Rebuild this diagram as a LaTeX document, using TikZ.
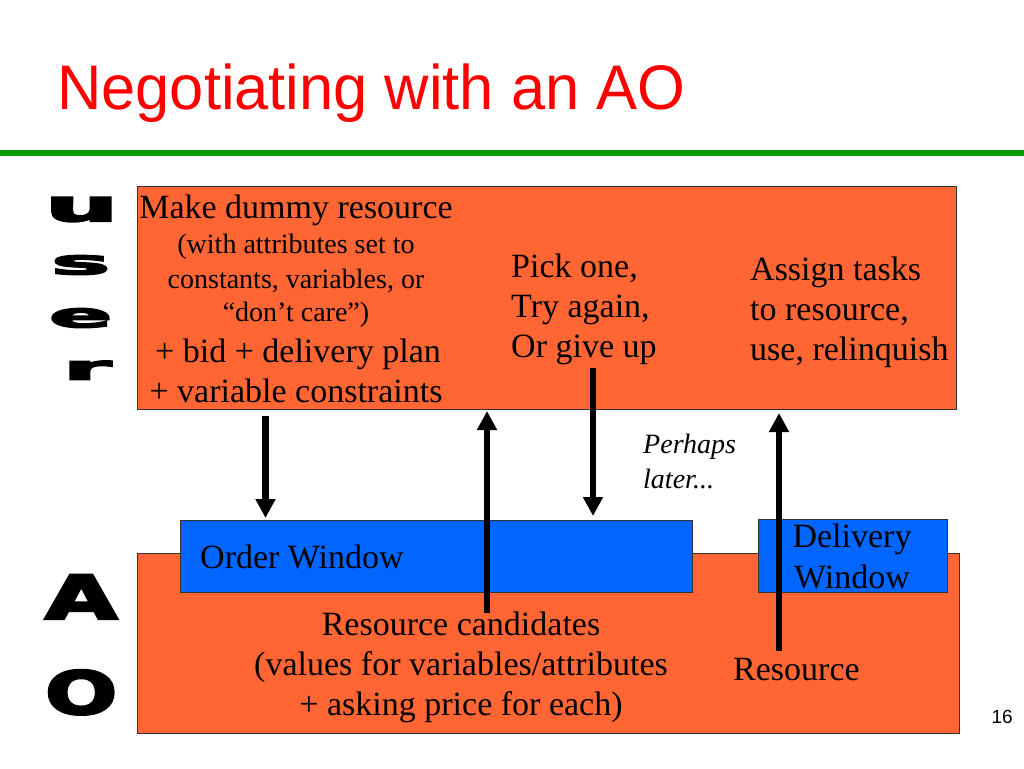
\documentclass[tikz,border=0pt]{standalone}
\usepackage{fontspec}
\setmainfont{Liberation Serif}
\newfontfamily\titlefont{Liberation Sans}
\newfontfamily\heavyfont{DejaVu Sans}[BoldFont={DejaVu Sans Bold}, BoldFeatures={FakeBold=4}]
\usetikzlibrary{arrows.meta}
\definecolor{boxorange}{RGB}{255,102,51}
\definecolor{boxblue}{RGB}{0,102,255}
\definecolor{rulegreen}{RGB}{0,153,0}
\definecolor{titlered}{RGB}{255,0,0}
\begin{document}
\begin{tikzpicture}[x=1pt,y=-1pt,
  box/.style={draw=black!80, line width=0.8pt, inner sep=0, outer sep=0, anchor=north west},
  big/.style={font=\fontsize{34}{40}\selectfont, inner sep=0},
  small/.style={font=\fontsize{28}{34}\selectfont, inner sep=0},
  note/.style={font=\fontsize{28}{34}\selectfont\itshape, inner sep=0, anchor=base west},
  heavy/.style={inner sep=0, anchor=south west, font=\heavyfont\bfseries},
  flow/.style={line width=6.5pt, -{Triangle[width=19pt,length=19pt]}}]
\fill[white] (0,0) rectangle (1024,768);
\useasboundingbox (0,0) rectangle (1024,768);

% title and rule
\node[anchor=base west, inner sep=0, text=titlered, font=\titlefont\fontsize{63}{75}\selectfont] (title) at (57,109) {\scalebox{0.975}[1]{Negotiating with an AO}};
\coordinate (ruleL) at (0,153);
\coordinate (ruleR) at (1024,153);
\draw[rulegreen, line width=6pt] (ruleL) -- (ruleR);

% boxes
\node[box, fill=boxorange, minimum width=819pt, minimum height=223pt] (userbox) at (137,186) {};
\node[box, fill=boxorange, minimum width=822pt, minimum height=180pt] (aobox) at (137,553) {};
\node[box, fill=boxblue, minimum width=512pt, minimum height=72pt] (order) at (180,520) {};
\node[box, fill=boxblue, minimum width=189pt, minimum height=73pt] (delivery) at (758,519) {};

% side labels
\node[heavy] (lu) at (45,222) {\resizebox{73pt}{24pt}{u}};
\node[heavy] (ls) at (51,275) {\resizebox{59pt}{19pt}{s}};
\node[heavy] (le) at (49,328) {\resizebox{63pt}{19pt}{e}};
\node[heavy] (lr) at (63,380) {\resizebox{48pt}{19pt}{r}};
\node[heavy] (la) at (45,619) {\resizebox{72pt}{44pt}{A}};
\node[heavy] (lo) at (45,715) {\resizebox{72pt}{44pt}{O}};

% user box texts
\node[big, anchor=base] (m1) at (296,218) {Make dummy resource};
\node[small, anchor=base] (m2) at (296,253) {(with attributes set to};
\node[small, anchor=base] (m3) at (296,288) {constants, variables, or};
\node[small, anchor=base] (m4) at (296,321) {“don’t care”)};
\node[big, anchor=base] (m5) at (298,362) {+ bid + delivery plan};
\node[big, anchor=base] (m6) at (296,402) {+ variable constraints};

\node[big, anchor=base west] (p1) at (511,277) {Pick one,};
\node[big, anchor=base west] (p2) at (511,317) {Try again,};
\node[big, anchor=base west] (p3) at (511,357) {Or give up};

\node[big, anchor=base west] (s1) at (750,280) {Assign tasks};
\node[big, anchor=base west] (s2) at (750,320) {to resource,};
\node[big, anchor=base west] (s3) at (750,360) {use, relinquish};

\node[note] (n1) at (643,453) {Perhaps};
\node[note] (n2) at (643,488) {later...};

% AO box texts
\node[big, anchor=base west] (ow) at (200,568) {Order Window};
\node[big, anchor=base] (dw1) at (852,547) {Delivery};
\node[big, anchor=base] (dw2) at (852,588) {Window};
\node[big, anchor=base] (r1) at (461,635) {Resource candidates};
\node[big, anchor=base] (r2) at (461,675) {(values for variables/attributes};
\node[big, anchor=base] (r3) at (461,715) {+ asking price for each)};
\node[big, anchor=base west] (res) at (733,680) {Resource};

\node[anchor=base east, inner sep=0, font=\titlefont\fontsize{19}{23}\selectfont] (pg) at (1013,723) {16};

% arrows
\coordinate (a1s) at (265.5,416);
\coordinate (a1e) at (265.5,518);
\coordinate (a2s) at (487,613);
\coordinate (a2e) at (487,411);
\coordinate (a3s) at (593,368);
\coordinate (a3e) at (593,516);
\coordinate (a4s) at (779,651);
\coordinate (a4e) at (779,413);
\draw[flow] (a1s) -- (a1e);
\draw[flow] (a2s) -- (a2e);
\draw[flow] (a3s) -- (a3e);
\draw[flow] (a4s) -- (a4e);
\end{tikzpicture}
\end{document}
